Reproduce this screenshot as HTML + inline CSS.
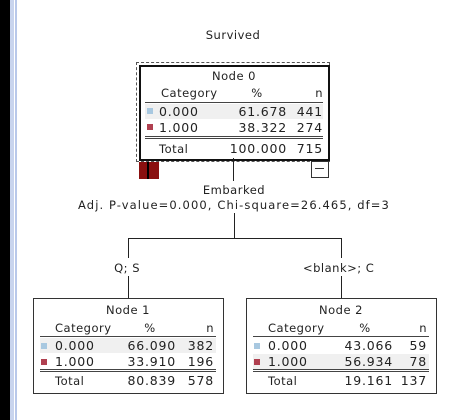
<!DOCTYPE html>
<html><head><meta charset="utf-8"><style>
body{margin:0;width:468px;height:420px;background:#fff;position:relative;overflow:hidden;font-family:"DejaVu Sans","Liberation Sans",sans-serif;font-size:11.5px;letter-spacing:0.5px;color:#222}
.a{position:absolute}
.t{position:absolute;white-space:nowrap;line-height:12px}
.r{position:absolute;white-space:nowrap;line-height:12px;text-align:right}
.c{position:absolute;white-space:nowrap;line-height:12px;text-align:center}
.box{position:absolute;border:1px solid #333;background:#fff}
.hl{position:absolute;background:#444;height:1px}
.sq{position:absolute;width:6px;height:6px}
.n{font-size:12.5px;letter-spacing:0.8px}
</style></head><body>
<div class="a" style="left:0;top:0;width:10px;height:420px;background:#000"></div>
<div class="a" style="left:10px;top:0;width:4px;height:420px;background:#c8d4ee"></div>
<div class="a" style="left:15px;top:0;width:2px;height:420px;background:#b8c8ea"></div>

<div class="c" style="left:133px;width:200px;top:29px">Survived</div>

<!-- Node 0 -->
<div class="a" style="left:136px;top:62px;width:192px;height:98px;border:1px dashed #555"></div>
<div class="box" style="left:139px;top:65px;width:187px;height:92px;border:2px solid #111"></div>
<div class="c" style="left:139px;width:190px;top:70px">Node 0</div>
<div class="t" style="left:161px;top:87px">Category</div>
<div class="c" style="left:247px;width:20px;top:87px">%</div>
<div class="r" style="right:145px;top:87px">n</div>
<div class="hl" style="left:145px;top:102px;width:178px"></div>
<div class="a" style="left:145px;top:104px;width:178px;height:15px;background:#f0f0f0"></div>
<div class="sq" style="left:147px;top:108px;background:#a8c8e0"></div>
<div class="t n" style="left:159px;top:106px">0.000</div>
<div class="r n" style="right:181px;top:106px">61.678</div>
<div class="r n" style="right:145px;top:106px">441</div>
<div class="sq" style="left:147px;top:124px;background:#b04050"></div>
<div class="t n" style="left:159px;top:122px">1.000</div>
<div class="r n" style="right:181px;top:122px">38.322</div>
<div class="r n" style="right:145px;top:122px">274</div>
<div class="hl" style="left:145px;top:136px;width:178px"></div>
<div class="hl" style="left:145px;top:138px;width:178px"></div>
<div class="t" style="left:159px;top:143px">Total</div>
<div class="r n" style="right:181px;top:143px">100.000</div>
<div class="r n" style="right:145px;top:143px">715</div>
<div class="a" style="left:139px;top:162px;width:20px;height:17px;background:#8a1010"></div>
<div class="a" style="left:147px;top:162px;width:2px;height:17px;background:#000"></div>
<div class="a" style="left:311px;top:161px;width:16px;height:15px;border:1px solid #333;background:#fff"></div>
<div class="a" style="left:315px;top:168px;width:9px;height:1px;background:#333"></div>

<div class="a" style="left:233px;top:158px;width:1px;height:23px;background:#222"></div>
<div class="c" style="left:134px;width:200px;top:184px">Embarked</div>
<div class="c" style="left:34px;width:400px;top:199px;letter-spacing:1.1px">Adj. P-value=0.000, Chi-square=26.465, df=3</div>
<div class="a" style="left:234px;top:213px;width:1px;height:26px;background:#222"></div>
<div class="a" style="left:128px;top:238px;width:213px;height:1px;background:#222"></div>
<div class="a" style="left:128px;top:238px;width:1px;height:60px;background:#222"></div>
<div class="a" style="left:341px;top:238px;width:1px;height:60px;background:#222"></div>
<div class="a" style="left:128px;top:258px;width:1px;height:18px;background:#fff"></div>
<div class="a" style="left:341px;top:258px;width:1px;height:18px;background:#fff"></div>
<div class="r" style="right:328px;top:262px">Q; S</div>
<div class="t" style="left:303px;top:262px">&lt;blank&gt;; C</div>

<!-- Node 1 -->
<div class="box" style="left:33px;top:298px;width:189px;height:94px"></div>
<div class="c" style="left:33px;width:190px;top:304px">Node 1</div>
<div class="t" style="left:55px;top:322px">Category</div>
<div class="c" style="left:140px;width:20px;top:322px">%</div>
<div class="r" style="right:254px;top:322px">n</div>
<div class="hl" style="left:40px;top:336px;width:176px"></div>
<div class="a" style="left:40px;top:338px;width:176px;height:15px;background:#f0f0f0"></div>
<div class="sq" style="left:41px;top:343px;background:#a8c8e0"></div>
<div class="t n" style="left:55px;top:340px">0.000</div>
<div class="r n" style="right:292px;top:340px">66.090</div>
<div class="r n" style="right:254px;top:340px">382</div>
<div class="sq" style="left:41px;top:359px;background:#b04050"></div>
<div class="t n" style="left:55px;top:356px">1.000</div>
<div class="r n" style="right:292px;top:356px">33.910</div>
<div class="r n" style="right:254px;top:356px">196</div>
<div class="hl" style="left:40px;top:369px;width:176px"></div>
<div class="hl" style="left:40px;top:371px;width:176px"></div>
<div class="t" style="left:55px;top:375px">Total</div>
<div class="r n" style="right:292px;top:375px">80.839</div>
<div class="r n" style="right:254px;top:375px">578</div>

<!-- Node 2 -->
<div class="box" style="left:246px;top:298px;width:189px;height:94px"></div>
<div class="c" style="left:246px;width:190px;top:304px">Node 2</div>
<div class="t" style="left:268px;top:322px">Category</div>
<div class="c" style="left:355px;width:20px;top:322px">%</div>
<div class="r" style="right:41px;top:322px">n</div>
<div class="hl" style="left:253px;top:336px;width:176px"></div>
<div class="a" style="left:253px;top:354px;width:176px;height:15px;background:#f0f0f0"></div>
<div class="sq" style="left:254px;top:343px;background:#a8c8e0"></div>
<div class="t n" style="left:268px;top:340px">0.000</div>
<div class="r n" style="right:75px;top:340px">43.066</div>
<div class="r n" style="right:41px;top:340px">59</div>
<div class="sq" style="left:254px;top:359px;background:#b04050"></div>
<div class="t n" style="left:268px;top:356px">1.000</div>
<div class="r n" style="right:75px;top:356px">56.934</div>
<div class="r n" style="right:41px;top:356px">78</div>
<div class="hl" style="left:253px;top:369px;width:176px"></div>
<div class="hl" style="left:253px;top:371px;width:176px"></div>
<div class="t" style="left:268px;top:375px">Total</div>
<div class="r n" style="right:75px;top:375px">19.161</div>
<div class="r n" style="right:41px;top:375px">137</div>
</body></html>
